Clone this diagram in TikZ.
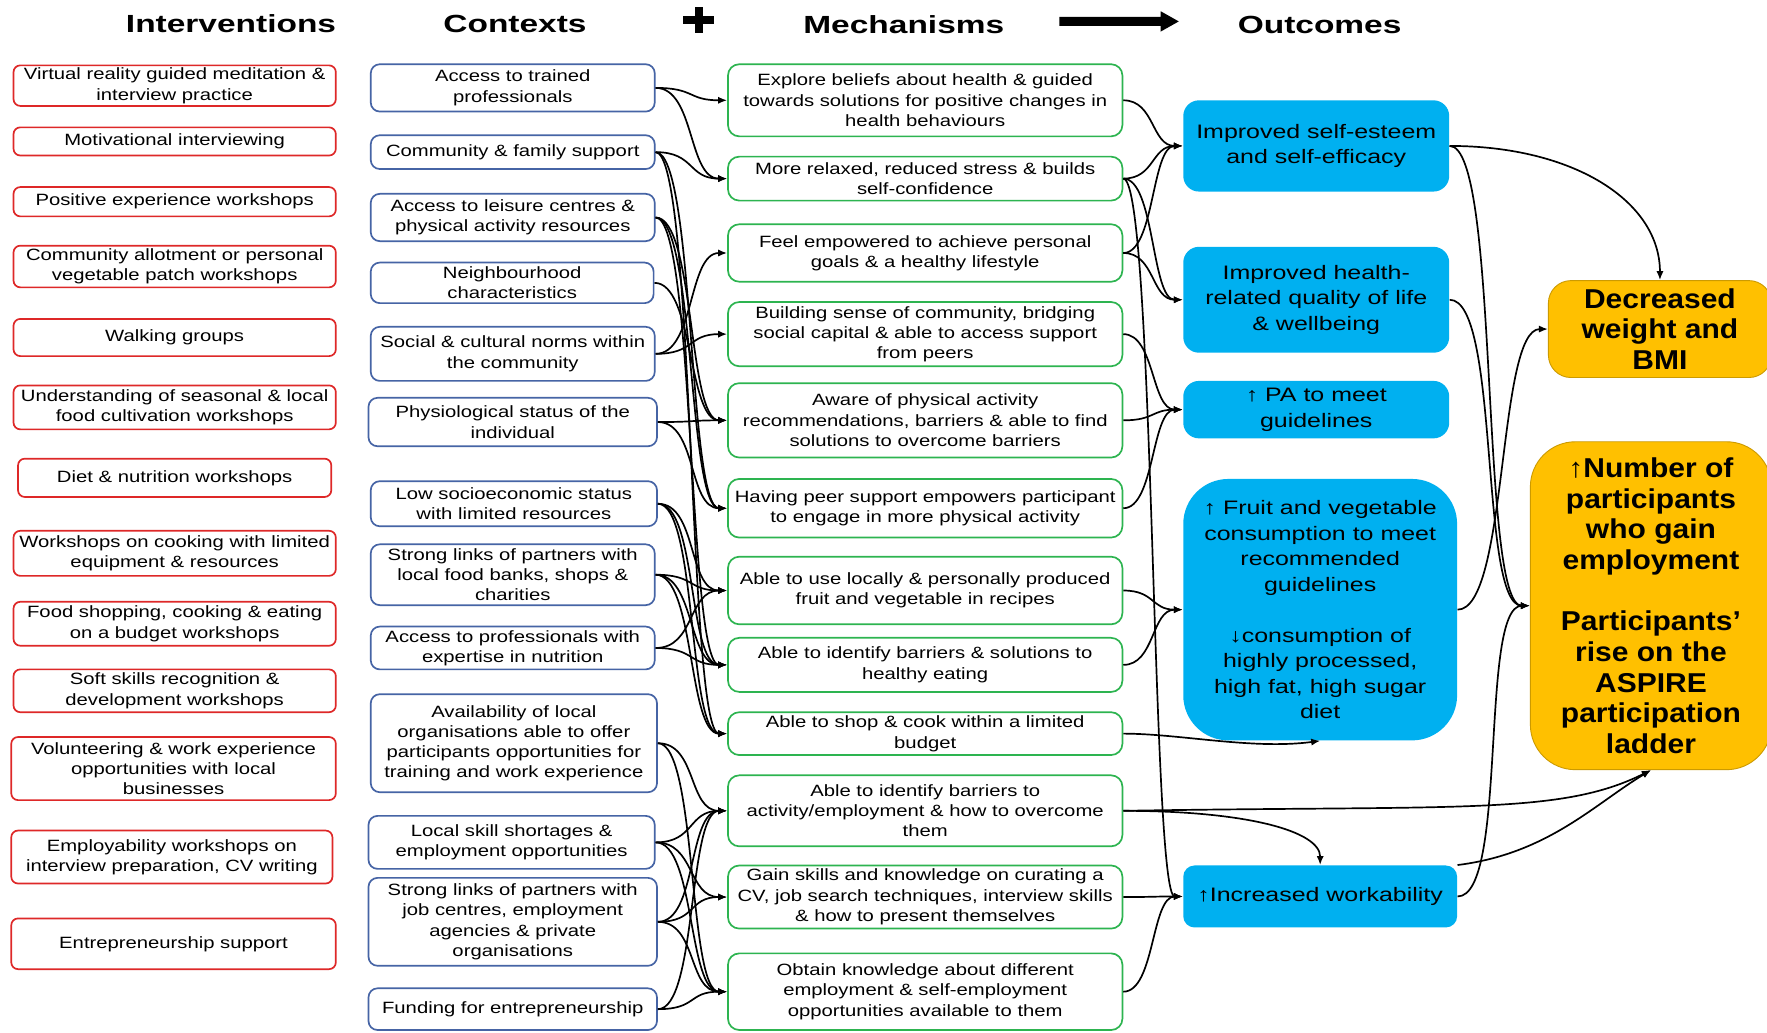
\documentclass[tikz,border=0pt]{standalone}
\usepackage{fontspec}
\setmainfont{Liberation Sans}
\newfontfamily\bodyf[FakeStretch=1.24]{Liberation Sans}
\newfontfamily\headf[FakeStretch=1.35]{Liberation Sans}
\newfontfamily\outf[FakeStretch=1.28]{Liberation Sans}
\newfontfamily\finf[FakeStretch=1.1]{Liberation Sans}
\usetikzlibrary{arrows.meta}
\definecolor{ivred}{RGB}{222,40,40}
\definecolor{ctblue}{RGB}{70,100,165}
\definecolor{mgreen}{RGB}{45,180,80}
\definecolor{ocyan}{RGB}{0,176,240}
\definecolor{forange}{RGB}{255,192,0}
\tikzset{
  bodytxt/.style={font=\bodyf\fontsize{7.25}{9}\selectfont, align=center, inner sep=0pt},
  iv/.style={bodytxt, draw=ivred, line width=0.75pt, rounded corners=3pt, fill=white},
  ct/.style={bodytxt, draw=ctblue, line width=0.75pt, rounded corners=4pt, fill=white},
  mech/.style={bodytxt, draw=mgreen, line width=0.75pt, rounded corners=5pt, fill=white},
  outc/.style={font=\outf\fontsize{8.65}{11.3}\selectfont, align=center, inner sep=0pt, fill=ocyan, rounded corners=7pt},
  fin/.style={font=\finf\bfseries\fontsize{12.1}{13.6}\selectfont, align=center, inner sep=0pt, fill=forange, draw=forange!80!black, line width=0.4pt},
  head/.style={font=\headf\bfseries\fontsize{11}{13}\selectfont, inner sep=0pt},
  conn/.style={line width=0.75pt, -{Latex[length=4pt,width=3.2pt]}},
  scurve/.style={to path={.. controls +(#1,0) and +(-#1,0) .. (\tikztotarget) \tikztonodes}},
  scurve/.default=35
}
\begin{document}
\begin{tikzpicture}[x=0.5pt,y=-0.5pt]
\fill[white] (0,0) rectangle (1568,916);
\useasboundingbox (0,0) rectangle (1568,916);

% headers
\node[head] (hI) at (205,21) {Interventions};
\node[head] (hC) at (457,21) {Contexts};
\node[head] (hM) at (802,22) {Mechanisms};
\node[head] (hO) at (1171,22) {Outcomes};
\fill (606,14.5) rectangle (634,21.5);
\fill (616.5,6) rectangle (623.5,29);
\fill (940,15) -- (1030,15) -- (1030,10) -- (1046,19) -- (1030,28) -- (1030,23) -- (940,23) -- cycle;

% interventions
\node[iv, minimum width=143pt, minimum height=18pt] (i1) at (155,76) {Virtual reality guided meditation \&\\interview practice};
\node[iv, minimum width=143pt, minimum height=12.5pt] (i2) at (155,125.5) {Motivational interviewing};
\node[iv, minimum width=143pt, minimum height=13pt] (i3) at (155,179) {Positive experience workshops};
\node[iv, minimum width=143pt, minimum height=18.5pt] (i4) at (155,236.5) {Community allotment or personal\\vegetable patch workshops};
\node[iv, minimum width=143pt, minimum height=16.5pt] (i5) at (155,299.5) {Walking groups};
\node[iv, minimum width=143pt, minimum height=19.5pt] (i6) at (155,361.5) {Understanding of seasonal \& local\\food cultivation workshops};
\node[iv, minimum width=139pt, minimum height=17pt] (i7) at (155,424) {Diet \& nutrition workshops};
\node[iv, minimum width=143pt, minimum height=20pt] (i8) at (155,491) {Workshops on cooking with limited\\equipment \& resources};
\node[iv, minimum width=143pt, minimum height=19.5pt] (i9) at (155,553.5) {Food shopping, cooking \& eating\\on a budget workshops};
\node[iv, minimum width=143pt, minimum height=19pt] (i10) at (155,613) {Soft skills recognition \&\\development workshops};
\node[iv, minimum width=144pt, minimum height=28pt] (i11) at (154,682) {Volunteering \& work experience\\opportunities with local\\businesses};
\node[iv, minimum width=142.5pt, minimum height=23.5pt] (i12) at (152.5,760.5) {Employability workshops on\\interview preparation, CV writing};
\node[iv, minimum width=144pt, minimum height=22.5pt] (i13) at (154,837.5) {Entrepreneurship support};

% contexts
\node[ct, minimum width=126pt, minimum height=21pt] (c1) at (455,78) {Access to trained\\professionals};
\node[ct, minimum width=126pt, minimum height=15pt] (c2) at (455,135) {Community \& family support};
\node[ct, minimum width=126pt, minimum height=21pt] (c3) at (455,193) {Access to leisure centres \&\\physical activity resources};
\node[ct, minimum width=125.5pt, minimum height=18pt] (c4) at (454.5,251) {Neighbourhood\\characteristics};
\node[ct, minimum width=126pt, minimum height=24pt] (c5) at (455,314) {Social \& cultural norms within\\the community};
\node[ct, minimum width=128pt, minimum height=21.5pt] (c6) at (455,374.5) {Physiological status of the\\individual};
\node[ct, minimum width=127pt, minimum height=20pt] (c7) at (456,447) {Low socioeconomic status\\with limited resources};
\node[ct, minimum width=126pt, minimum height=27pt] (c8) at (455,510) {Strong links of partners with\\local food banks, shops \&\\charities};
\node[ct, minimum width=126pt, minimum height=19pt] (c9) at (455,575) {Access to professionals with\\expertise in nutrition};
\node[ct, minimum width=127pt, minimum height=43.5pt] (c10) at (456,659.5) {Availability of local\\organisations able to offer\\participants opportunities for\\training and work experience};
\node[ct, minimum width=127pt, minimum height=23.5pt] (c11) at (454,747.5) {Local skill shortages \&\\employment opportunities};
\node[ct, minimum width=128pt, minimum height=39pt] (c12) at (455,818) {Strong links of partners with\\job centres, employment\\agencies \& private\\organisations};
\node[ct, minimum width=128pt, minimum height=18.5pt] (c13) at (455,895.5) {Funding for entrepreneurship};

% mechanisms
\node[mech, minimum width=175pt, minimum height=32pt] (m1) at (821,89) {Explore beliefs about health \& guided\\towards solutions for positive changes in\\health behaviours};
\node[mech, minimum width=175pt, minimum height=19.5pt] (m2) at (821,158.5) {More relaxed, reduced stress \& builds\\self-confidence};
\node[mech, minimum width=175pt, minimum height=25.5pt] (m3) at (821,224.5) {Feel empowered to achieve personal\\goals \& a healthy lifestyle};
\node[mech, minimum width=175pt, minimum height=28.5pt] (m4) at (821,296.5) {Building sense of community, bridging\\social capital \& able to access support\\from peers};
\node[mech, minimum width=175pt, minimum height=33pt] (m5) at (821,373) {Aware of physical activity\\recommendations, barriers \& able to find\\solutions to overcome barriers};
\node[mech, minimum width=175pt, minimum height=26pt] (m6) at (821,451) {Having peer support empowers participant\\to engage in more physical activity};
\node[mech, minimum width=175pt, minimum height=30pt] (m7) at (821,524) {Able to use locally \& personally produced\\fruit and vegetable in recipes};
\node[mech, minimum width=175pt, minimum height=24pt] (m8) at (821,590) {Able to identify barriers \& solutions to\\healthy eating};
\node[mech, minimum width=175pt, minimum height=19pt] (m9) at (821,651) {Able to shop \& cook within a limited\\budget};
\node[mech, minimum width=175pt, minimum height=31.5pt] (m10) at (821,719.5) {Able to identify barriers to\\activity/employment \& how to overcome\\them};
\node[mech, minimum width=175pt, minimum height=28pt] (m11) at (821,796) {Gain skills and knowledge on curating a\\CV, job search techniques, interview skills\\\& how to present themselves};
\node[mech, minimum width=175pt, minimum height=34pt] (m12) at (821,880) {Obtain knowledge about different\\employment \& self-employment\\opportunities available to them};

% outcomes
\node[outc, minimum width=118pt, minimum height=40.5pt] (o1) at (1168,129.5) {Improved self-esteem\\and self-efficacy};
\node[outc, minimum width=118pt, minimum height=47pt] (o2) at (1168,266) {Improved health-\\related quality of life\\\& wellbeing};
\node[outc, minimum width=118pt, minimum height=25.5pt] (o3) at (1168,363.5) {↑ PA to meet\\guidelines};
\node[outc, rounded corners=20pt, minimum width=121.5pt, minimum height=116pt] (o4) at (1171.5,541) {↑ Fruit and vegetable\\consumption to meet\\recommended\\guidelines\\[11.3pt]↓consumption of\\highly processed,\\high fat, high sugar\\diet};
\node[outc, rounded corners=5pt, minimum width=121.5pt, minimum height=27.5pt] (o5) at (1171.5,795.5) {↑Increased workability};

% final outcomes
\node[fin, rounded corners=10pt, minimum width=99pt, minimum height=43pt] (f1) at (1473,292) {Decreased\\weight and\\BMI};
\node[fin, rounded corners=20pt, minimum width=107pt, minimum height=145.5pt] (f2) at (1465,537.5) {↑Number of\\participants\\who gain\\employment\\[13.6pt]Participants’\\rise on the\\ASPIRE\\participation\\ladder};

% contexts -> mechanisms
\draw[conn] (c1.east) to[scurve] (m1.west);
\draw[conn] (c1.east) to[scurve] (m2.west);
\draw[conn] (c2.east) to[scurve] (m2.west);
\draw[conn] (c2.east) to[scurve] (m6.west);
\draw[conn] (c2.east) to[scurve] (m9.west);
\draw[conn] (c3.east) to[scurve] (m5.west);
\draw[conn] (c3.east) to[scurve] (m6.west);
\draw[conn] (c3.east) to[scurve] (m8.west);
\draw[conn] (c4.east) to[scurve] (m5.west);
\draw[conn] (c5.east) to[scurve] (m3.west);
\draw[conn] (c5.east) to[scurve] (m4.west);
\draw[conn] (c6.east) to[scurve] (m5.west);
\draw[conn] (c6.east) to[scurve] (m6.west);
\draw[conn] (c7.east) to[scurve] (m7.west);
\draw[conn] (c7.east) to[scurve] (m8.west);
\draw[conn] (c7.east) to[scurve] (m9.west);
\draw[conn] (c8.east) to[scurve] (m7.west);
\draw[conn] (c8.east) to[scurve] (m8.west);
\draw[conn] (c8.east) to[scurve] (m9.west);
\draw[conn] (c9.east) to[scurve] (m7.west);
\draw[conn] (c9.east) to[scurve] (m8.west);
\draw[conn] (c10.east) to[scurve] (m10.west);
\draw[conn] (c10.east) to[scurve] (m12.west);
\draw[conn] (c11.east) to[scurve] (m10.west);
\draw[conn] (c11.east) to[scurve] (m11.west);
\draw[conn] (c11.east) to[scurve] (m12.west);
\draw[conn] (c12.east) to[scurve] (m10.west);
\draw[conn] (c12.east) to[scurve] (m11.west);
\draw[conn] (c12.east) to[scurve] (m12.west);
\draw[conn] (c13.east) to[scurve] (m10.west);
\draw[conn] (c13.east) to[scurve] (m12.west);

% mechanisms -> outcomes
\draw[conn] (m1.east) to[scurve=28] (o1.west);
\draw[conn] (m2.east) to[scurve=28] (o1.west);
\draw[conn] (m3.east) to[scurve=28] (o1.west);
\draw[conn] (m2.east) to[scurve=28] (o2.west);
\draw[conn] (m3.east) to[scurve=28] (o2.west);
\draw[conn] (m2.east) to[scurve=28] (o5.west);
\draw[conn] (m4.east) to[scurve=28] (o3.west);
\draw[conn] (m5.east) to[scurve=28] (o3.west);
\draw[conn] (m6.east) to[scurve=28] (o3.west);
\draw[conn] (m7.east) to[scurve=28] (o4.west);
\draw[conn] (m8.east) to[scurve=28] (o4.west);
\draw[conn] (m9.east) .. controls +(50,0) and +(-60,8) .. (o4.south);
\draw[conn] (m10.east) .. controls +(110,0) and +(0,-30) .. (o5.north);
\draw[conn] (m10.east) .. controls +(300,-5) and +(-80,40) .. (f2.south);
\draw[conn] (m11.east) to[scurve=28] (o5.west);
\draw[conn] (m12.east) to[scurve=28] (o5.west);

% outcomes -> final outcomes
\draw[conn] (o1.east) .. controls +(110,0) and +(0,-70) .. (f1.north);
\draw[conn] (o1.east) to[scurve=45] (f2.west);
\draw[conn] (o2.east) to[scurve=45] (f2.west);
\draw[conn] (o4.east) to[scurve=45] (f1.west);
\draw[conn] (o5.east) to[scurve=45] (f2.west);
\draw[conn] (o5.north east) .. controls +(80,-10) and +(-50,30) .. (f2.south);
\end{tikzpicture}
\end{document}
